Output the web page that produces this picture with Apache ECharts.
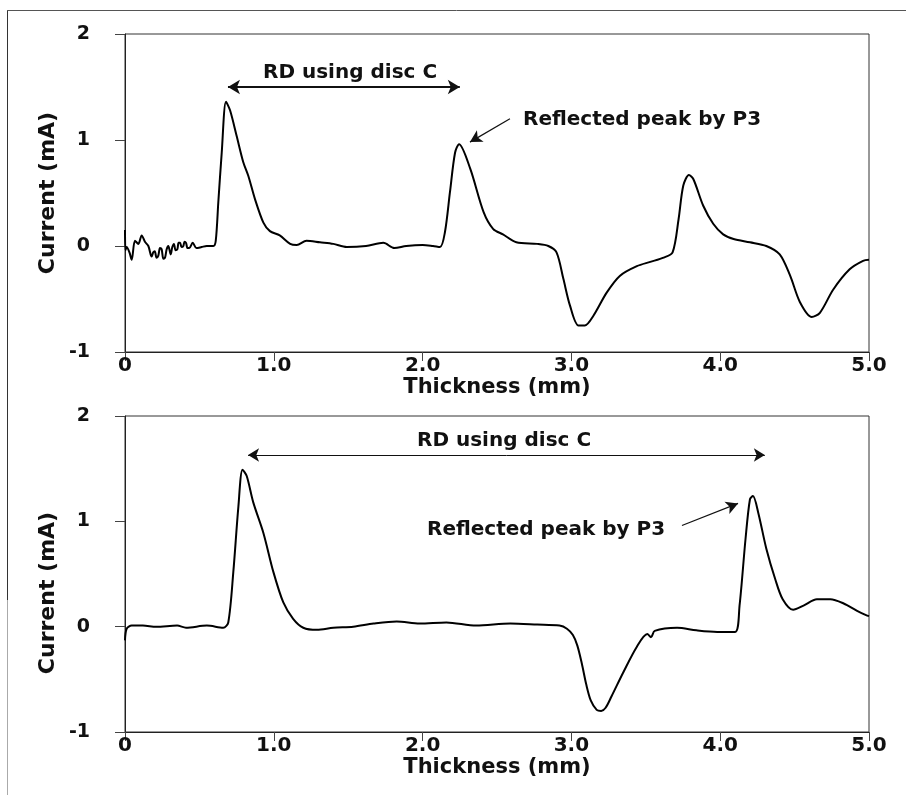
<!DOCTYPE html>
<html>
<head>
<meta charset="utf-8">
<script src="https://cdn.jsdelivr.net/npm/echarts@6/dist/echarts.min.js"></script>
<style>
html,body{margin:0;padding:0;background:#fff;}
#chart{width:906px;height:795px;}
</style>
</head>
<body>
<div id="chart"></div>
<script>
// ---------- data ----------
const xTicks = [0, 1, 2, 3, 4, 5];
const xTickLabels = ['0', '1.0', '2.0', '3.0', '4.0', '5.0'];
const yTickLabels = ['-1', '0', '1', '2'];
const xAxisName = 'Thickness (mm)';
const yAxisName = 'Current (mA)';
const annotRD = 'RD using disc C';
const annotPeak = 'Reflected peak by P3';

// top panel (thickness mm, current mA)
const topX = [0, 0.003, 0.011, 0.03, 0.045, 0.067, 0.09, 0.112, 0.134, 0.157, 0.179, 0.19, 0.2, 0.212, 0.224, 0.235, 0.246, 0.258, 0.269, 0.28, 0.291, 0.307, 0.318, 0.329, 0.34, 0.352, 0.36, 0.37, 0.38, 0.392, 0.40, 0.41, 0.42, 0.432, 0.455, 0.48, 0.515, 0.549, 0.594, 0.61,
  0.627, 0.65, 0.679, 0.706, 0.75, 0.795, 0.829, 0.874, 0.93, 0.974, 1.04, 1.11, 1.154, 1.22, 1.31, 1.40, 1.49, 1.62, 1.736, 1.81, 1.89, 2.0, 2.07, 2.117,
  2.15, 2.184, 2.218, 2.245, 2.32, 2.41, 2.475, 2.54, 2.63, 2.77, 2.845, 2.90, 2.946, 2.99, 3.047, 3.09, 3.147, 3.237, 3.327, 3.44, 3.53, 3.62, 3.68,
  3.72, 3.752, 3.79, 3.82, 3.886, 3.953, 4.02, 4.09, 4.2, 4.31, 4.40, 4.47, 4.536, 4.615, 4.67, 4.76, 4.87, 4.96, 5.0];
const topY = [0.15, -0.04, -0.01, -0.06, -0.13, 0.05, 0.02, 0.10, 0.04, 0.0, -0.10, -0.06, -0.05, -0.11, -0.09, -0.02, -0.03, -0.12, -0.11, -0.03, 0.0, -0.08, -0.01, 0.02, -0.04, -0.03, 0.03, 0.03, -0.01, 0.0, 0.04, 0.03, -0.02, -0.02, 0.03, -0.02, -0.01, 0.0, 0.0, 0.05,
  0.41, 0.88, 1.36, 1.28, 1.04, 0.79, 0.66, 0.44, 0.22, 0.14, 0.10, 0.02, 0.01, 0.05, 0.035, 0.02, -0.01, 0.0, 0.03, -0.02, 0.0, 0.01, 0.0, -0.01,
  0.13, 0.51, 0.88, 0.96, 0.73, 0.32, 0.16, 0.11, 0.035, 0.02, 0.0, -0.06, -0.31, -0.56, -0.75, -0.75, -0.66, -0.44, -0.28, -0.19, -0.15, -0.11, -0.06,
  0.25, 0.57, 0.67, 0.63, 0.38, 0.21, 0.11, 0.066, 0.035, 0.0, -0.08, -0.28, -0.53, -0.67, -0.63, -0.41, -0.22, -0.14, -0.13];

// bottom panel
const botX = [0, 0.011, 0.045, 0.12, 0.21, 0.35, 0.41, 0.55, 0.66, 0.694, 0.728, 0.762, 0.79, 0.818, 0.862, 0.93, 0.997, 1.064, 1.13, 1.198, 1.29, 1.40, 1.534, 1.67, 1.826, 1.98, 2.16, 2.36, 2.59, 2.77, 2.92,
  2.97, 3.01, 3.04, 3.07, 3.10, 3.13, 3.17, 3.20, 3.23, 3.27, 3.35, 3.44, 3.51, 3.535, 3.56, 3.71, 3.84, 3.98, 4.10, 4.13, 4.17, 4.2, 4.22, 4.256, 4.31, 4.37, 4.42, 4.49, 4.56, 4.65, 4.74, 4.83, 4.92, 4.98, 5.0];
const botY = [-0.13, -0.02, 0.01, 0.01, 0.0, 0.01, -0.01, 0.01, -0.01, 0.04, 0.52, 1.14, 1.49, 1.43, 1.18, 0.89, 0.52, 0.23, 0.075, -0.01, -0.03, -0.01, 0.0, 0.03, 0.05, 0.03, 0.04, 0.01, 0.03, 0.02, 0.01,
  -0.02, -0.08, -0.18, -0.35, -0.55, -0.70, -0.79, -0.80, -0.77, -0.66, -0.43, -0.19, -0.07, -0.10, -0.04, -0.01, -0.035, -0.05, -0.05, 0.20, 0.83, 1.21, 1.24, 1.08, 0.74, 0.45, 0.26, 0.16, 0.20, 0.26, 0.26, 0.22, 0.15, 0.11, 0.10];

// annotation anchors in data units
const topRD = [[0.692, 1.5], [2.25, 1.5]];
const topPeakArrow = [[2.587, 1.2], [2.318, 0.98]];
const botRD = [[0.827, 1.63], [4.30, 1.63]];
const botPeakArrow = [[3.743, 0.96], [4.12, 1.17]];

// ---------- chart ----------
const FONT = 'DejaVu Sans';
const pairs = (xs, ys) => xs.map((x, i) => [x, ys[i]]);

function xAxisCfg(gi) {
  return {
    type: 'value', gridIndex: gi, min: 0, max: 5, interval: 1,
    name: xAxisName, nameLocation: 'middle', nameGap: 14,
    nameTextStyle: { fontFamily: FONT, fontWeight: 'bold', fontSize: 21, color: '#111' },
    axisLine: { show: true, onZero: false, lineStyle: { color: '#222', width: 1 } },
    axisTick: { show: true, inside: false, length: 9, lineStyle: { color: '#444', width: 1 } },
    axisLabel: {
      margin: 4, fontFamily: FONT, fontWeight: 'bold', fontSize: 20, color: '#111',
      formatter: v => xTickLabels[xTicks.indexOf(v)] ?? ''
    },
    splitLine: { show: false }
  };
}
function yAxisCfg(gi) {
  return {
    type: 'value', gridIndex: gi, min: -1, max: 2, interval: 1,
    axisLine: { show: true, onZero: false, lineStyle: { color: '#222', width: 1 } },
    axisTick: { show: true, length: 10, lineStyle: { color: '#444', width: 1 } },
    axisLabel: {
      margin: 35, fontFamily: FONT, fontWeight: 'bold', fontSize: 19, color: '#111',
      formatter: v => yTickLabels.includes(String(v)) ? String(v) : ''
    },
    splitLine: { show: false }
  };
}
function arrowLine(coords, symbols, width, size) {
  return {
    silent: true, animation: false,
    symbol: symbols, symbolSize: size,
    label: { show: false },
    lineStyle: { color: '#111', width: width, type: 'solid' },
    data: [[{ coord: coords[0] }, { coord: coords[1] }]]
  };
}
const textStyle = { fontFamily: FONT, fontWeight: 'bold', fontSize: 20, fill: '#111' };

const chart = echarts.init(document.getElementById('chart'), null, { renderer: 'canvas' });
chart.setOption({
  backgroundColor: '#fff',
  animation: false,
  grid: [
    { left: 125, top: 34, width: 744, height: 318, show: true, borderColor: '#333', borderWidth: 1, backgroundColor: 'transparent' },
    { left: 125, top: 416, width: 744, height: 316, show: true, borderColor: '#333', borderWidth: 1, backgroundColor: 'transparent' }
  ],
  xAxis: [xAxisCfg(0), xAxisCfg(1)],
  yAxis: [yAxisCfg(0), yAxisCfg(1)],
  series: [
    {
      type: 'line', xAxisIndex: 0, yAxisIndex: 0, data: pairs(topX, topY),
      showSymbol: false, smooth: 0.3, lineStyle: { color: '#000', width: 2 },
      markLine: arrowLine(topRD, ['arrow', 'arrow'], 2, [11, 12])
    },
    {
      type: 'line', xAxisIndex: 0, yAxisIndex: 0, data: [],
      markLine: arrowLine(topPeakArrow, ['none', 'arrow'], 1.2, [10, 12])
    },
    {
      type: 'line', xAxisIndex: 1, yAxisIndex: 1, data: pairs(botX, botY),
      showSymbol: false, smooth: 0.3, lineStyle: { color: '#000', width: 2 },
      markLine: arrowLine(botRD, ['arrow', 'arrow'], 1, [10, 11])
    },
    {
      type: 'line', xAxisIndex: 1, yAxisIndex: 1, data: [],
      markLine: arrowLine(botPeakArrow, ['none', 'arrow'], 1.2, [10, 12])
    }
  ],
  graphic: [
    { type: 'line', shape: { x1: 7.5, y1: 10, x2: 7.5, y2: 600 }, style: { stroke: '#333', lineWidth: 1 } },
    { type: 'line', shape: { x1: 7.5, y1: 600, x2: 7.5, y2: 795 }, style: { stroke: '#aaa', lineWidth: 1 } },
    { type: 'line', shape: { x1: 7, y1: 10.5, x2: 906, y2: 10.5 }, style: { stroke: '#555', lineWidth: 1 } },
    { type: 'text', x: 48, y: 193, rotation: Math.PI / 2, style: { text: yAxisName, fontFamily: FONT, fontWeight: 'bold', fontSize: 22, fill: '#111', textAlign: 'center', textVerticalAlign: 'middle' } },
    { type: 'text', x: 48, y: 593, rotation: Math.PI / 2, style: { text: yAxisName, fontFamily: FONT, fontWeight: 'bold', fontSize: 22, fill: '#111', textAlign: 'center', textVerticalAlign: 'middle' } },
    { type: 'text', x: 263, y: 73, style: Object.assign({ text: annotRD, textAlign: 'left', textVerticalAlign: 'middle' }, textStyle) },
    { type: 'text', x: 523, y: 120, style: Object.assign({ text: annotPeak, textAlign: 'left', textVerticalAlign: 'middle' }, textStyle) },
    { type: 'text', x: 417, y: 441, style: Object.assign({ text: annotRD, textAlign: 'left', textVerticalAlign: 'middle' }, textStyle) },
    { type: 'text', x: 427, y: 530, style: Object.assign({ text: annotPeak, textAlign: 'left', textVerticalAlign: 'middle' }, textStyle) }
  ]
});
</script>
</body>
</html>
